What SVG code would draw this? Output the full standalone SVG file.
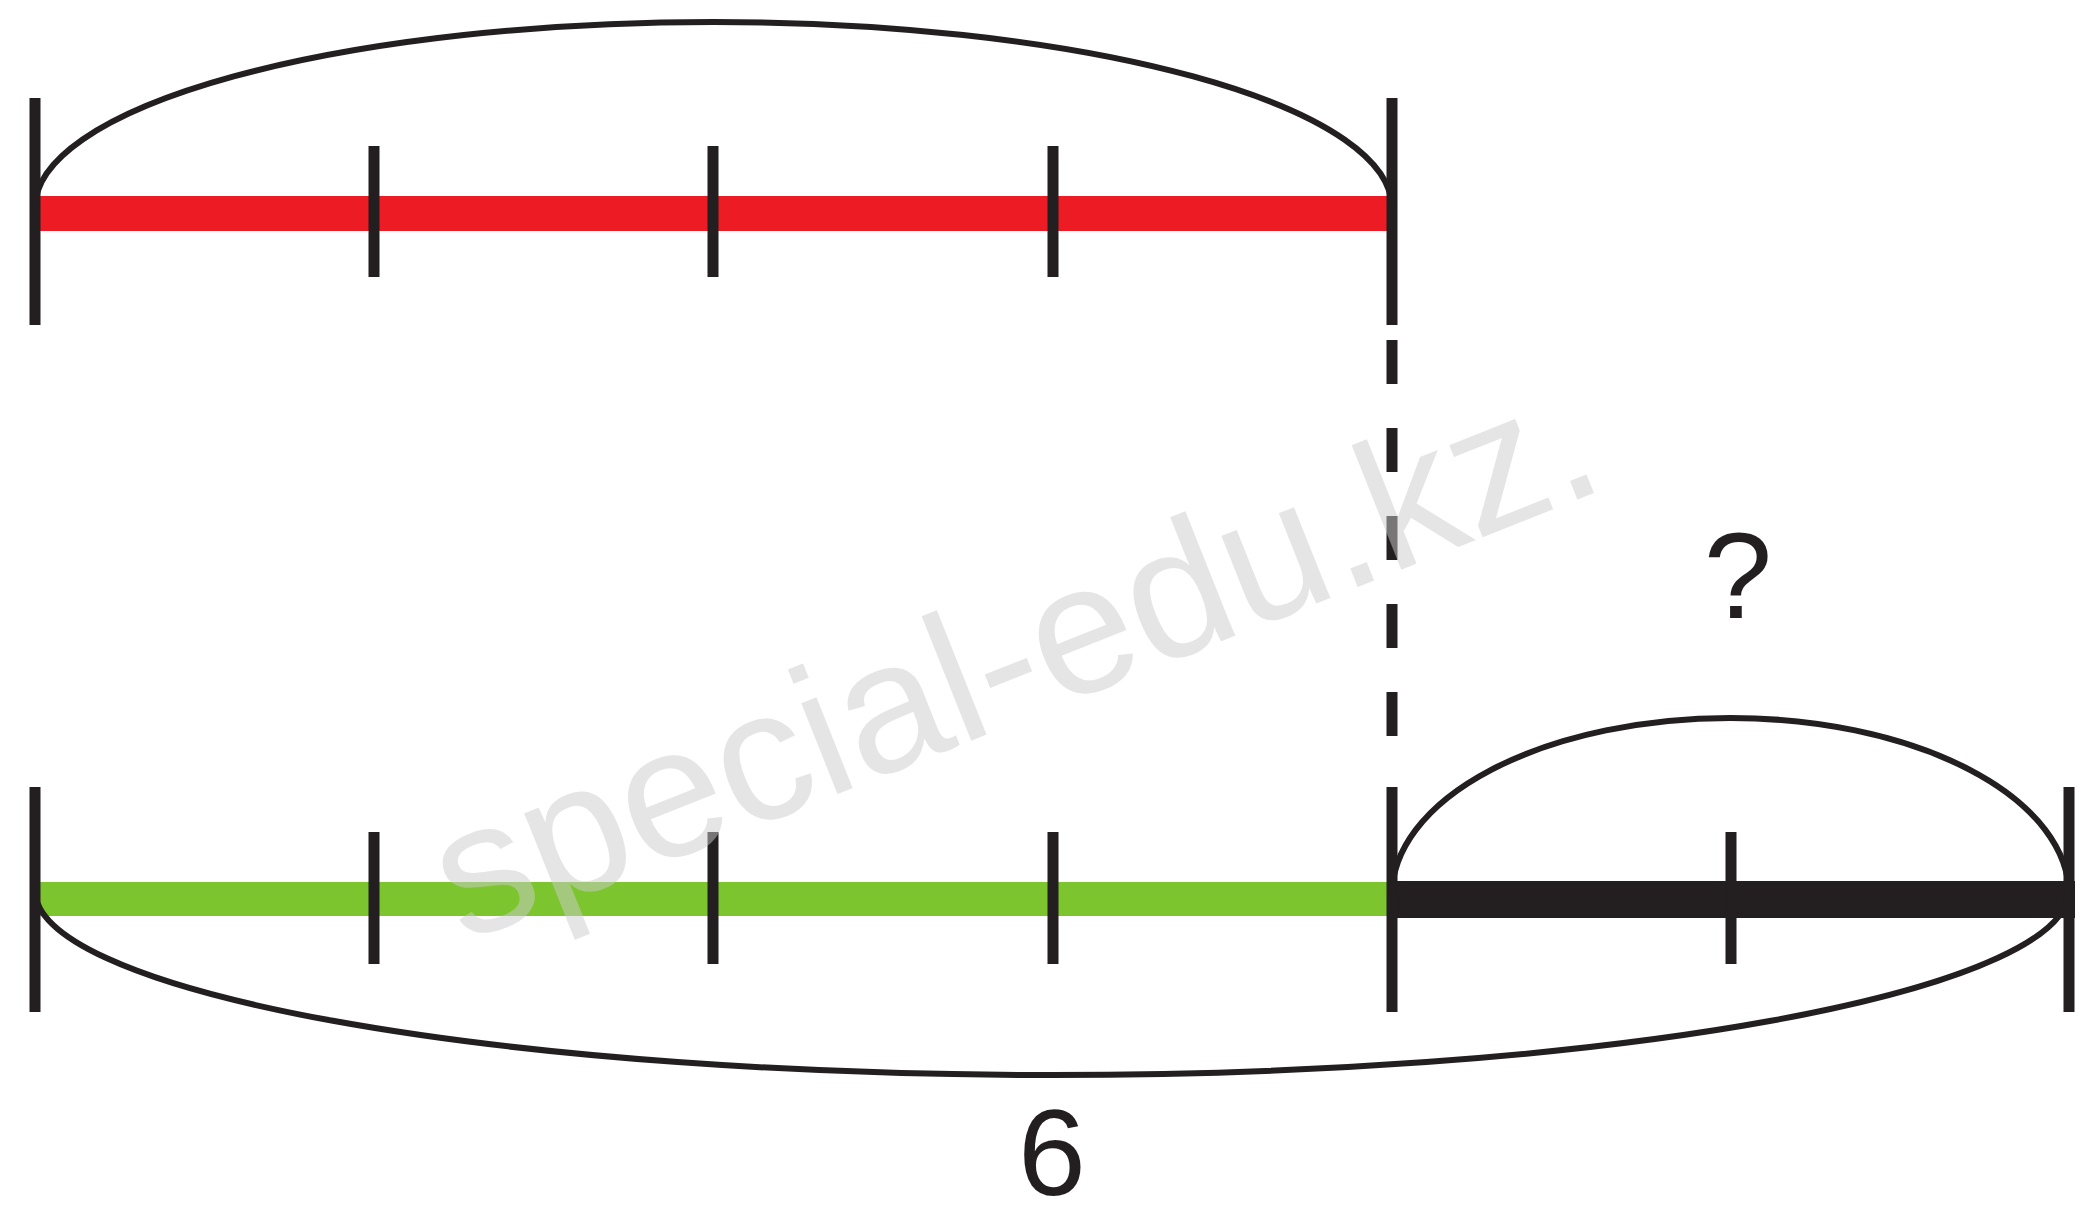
<svg xmlns="http://www.w3.org/2000/svg" width="2095" height="1224" viewBox="0 0 2095 1224">
<style>
.tick{stroke:#231f20;stroke-width:11;fill:none}
.arc{stroke:#231f20;stroke-width:6;fill:none}
.lbl{font-family:"Liberation Sans",Arial,sans-serif;fill:#231f20;text-anchor:middle}
.wm{font-family:"Liberation Sans",Arial,sans-serif;fill:#cbcbcb;fill-opacity:0.5}
</style>
<rect width="2095" height="1224" fill="#ffffff"/>
<g id="top-segment">
<line x1="35" y1="213.5" x2="1392" y2="213.5" stroke="#ed1c24" stroke-width="35"/>
<line class="tick" x1="35" y1="98" x2="35" y2="325"/>
<line class="tick" x1="374" y1="146" x2="374" y2="277"/>
<line class="tick" x1="713" y1="146" x2="713" y2="277"/>
<line class="tick" x1="1053" y1="146" x2="1053" y2="277"/>
<line class="tick" x1="1392" y1="98" x2="1392" y2="325"/>
</g>
<g id="bottom-segment">
<line x1="35" y1="899" x2="1392" y2="899" stroke="#7dc52e" stroke-width="34"/>
<line x1="1392" y1="899.5" x2="2075" y2="899.5" stroke="#231f20" stroke-width="37"/>
<line class="tick" x1="35" y1="787" x2="35" y2="1012"/>
<line class="tick" x1="374" y1="832" x2="374" y2="964"/>
<line class="tick" x1="713" y1="832" x2="713" y2="964"/>
<line class="tick" x1="1053" y1="832" x2="1053" y2="964"/>
<line class="tick" x1="1392" y1="787" x2="1392" y2="1012"/>
<line class="tick" x1="1731" y1="832" x2="1731" y2="964"/>
<line class="tick" x1="2069" y1="787" x2="2069" y2="1012"/>
</g>
<g id="connectors">
<line class="tick" x1="1392" y1="340" x2="1392" y2="736" stroke-dasharray="44 44"/>
<path class="arc" d="M35,208 A678.5,186 0 0 1 1392,208"/>
<path class="arc" d="M1392,895 A338.5,177 0 0 1 2069,895"/>
<path class="arc" d="M35,890 A1017,185 0 0 0 2069,890"/>
</g>
<g id="labels">
<text class="lbl" x="1738" y="618" font-size="123">?</text>
<text class="lbl" x="1052" y="1195" font-size="122">6</text>
</g>
<text class="wm" x="463" y="943" font-size="185" transform="rotate(-21.7 463 943)">special-edu.kz.</text>
</svg>
